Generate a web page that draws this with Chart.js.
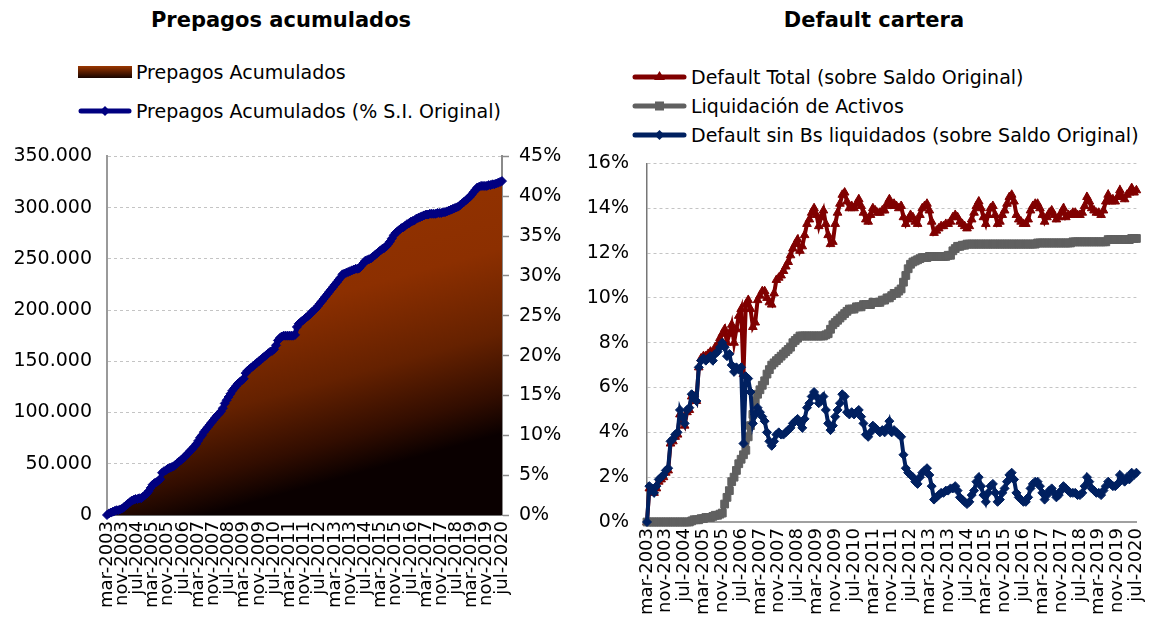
<!DOCTYPE html>
<html lang="es">
<head>
<meta charset="utf-8">
<title>Prepagos acumulados y Default cartera</title>
<script src="https://cdn.jsdelivr.net/npm/chart.js@4.4.1/dist/chart.umd.min.js"></script>
<style>
  html, body { margin: 0; padding: 0; background: #fff; }
  body { width: 1164px; height: 626px; position: relative; overflow: hidden;
         font-family: 'DejaVu Sans', Verdana, sans-serif; color: #000; }
  .title { position: absolute; top: 8px; font-size: 21px; font-weight: bold; text-align: center; }
  .legend-row { position: absolute; height: 24px; display: flex; align-items: center;
                font-size: 19px; white-space: nowrap; }
  .legend-row svg { margin-right: 4px; }
  canvas { position: absolute; }
</style>
</head>
<body>
<div class="title" style="left:0;width:562px">Prepagos acumulados</div>
<div class="title" style="left:580px;width:588px">Default cartera</div>

<!-- legend, left chart -->
<div class="legend-row" style="left:78px;top:60px">
  <svg width="54" height="14"><defs><linearGradient id="gArea" x1="0" y1="0" x2="0" y2="1">
    <stop offset="0" stop-color="#9a3600"/><stop offset="1" stop-color="#180400"/></linearGradient></defs>
    <rect x="0" y="1" width="54" height="12" fill="url(#gArea)"/></svg>Prepagos Acumulados
</div>
<div class="legend-row" style="left:78px;top:99px">
  <svg width="54" height="14"><line x1="3" y1="7" x2="51" y2="7" stroke="#000080" stroke-width="5" stroke-linecap="round"/>
    <polygon points="27,2 32,7 27,12 22,7" fill="#000080"/></svg>Prepagos Acumulados (% S.I. Original)
</div>

<!-- legend, right chart -->
<div class="legend-row" style="left:632px;top:65px">
  <svg width="55" height="14"><line x1="3" y1="7" x2="52" y2="7" stroke="#800000" stroke-width="5" stroke-linecap="round"/>
    <polygon points="27.5,1 33,10 22,10" fill="#800000"/></svg>Default Total (sobre Saldo Original)
</div>
<div class="legend-row" style="left:632px;top:94px">
  <svg width="55" height="14"><line x1="3" y1="7" x2="52" y2="7" stroke="#606060" stroke-width="5" stroke-linecap="round"/>
    <rect x="23" y="2.5" width="9" height="9" fill="#606060"/></svg>Liquidación de Activos
</div>
<div class="legend-row" style="left:632px;top:123px">
  <svg width="55" height="14"><line x1="3" y1="7" x2="52" y2="7" stroke="#002060" stroke-width="5" stroke-linecap="round"/>
    <polygon points="27.5,2 32.5,7 27.5,12 22.5,7" fill="#002060"/></svg>Default sin Bs liquidados (sobre Saldo Original)
</div>

<canvas id="prepagosChart" width="580" height="496" style="left:0;top:130px"></canvas>
<canvas id="defaultChart" width="584" height="492" style="left:580px;top:134px"></canvas>

<script>
// monthly series, mar-2003 .. jul-2020 (rows = calendar years)
const monthNames = ['ene', 'feb', 'mar', 'abr', 'may', 'jun', 'jul', 'ago', 'sep', 'oct', 'nov', 'dic'];

const tickLabels = ['mar-2003', 'nov-2003', 'jul-2004', 'mar-2005', 'nov-2005', 'jul-2006', 'mar-2007',
  'nov-2007', 'jul-2008', 'mar-2009', 'nov-2009', 'jul-2010', 'mar-2011', 'nov-2011', 'jul-2012',
  'mar-2013', 'nov-2013', 'jul-2014', 'mar-2015', 'nov-2015', 'jul-2016', 'mar-2017', 'nov-2017',
  'jul-2018', 'mar-2019', 'nov-2019', 'jul-2020'];

const prepagosMonto = [
  0, 1500, 2300, 3100, 3900, 4600, 4600, 5400, 6200, 7700,
  9200, 10800, 12300, 13900, 14600, 15400, 15400, 16200, 16200, 17700, 19300, 20800,
  23100, 26200, 29300, 30800, 31600, 33100, 34700, 40800, 42400, 43100, 44700, 45400,
  46200, 47000, 48500, 50100, 51600, 53100, 54700, 56200, 58500, 60100, 62400, 63900,
  66200, 68500, 71600, 74700, 77000, 80100, 82400, 84700, 87000, 89300, 91600, 93900,
  96300, 97800, 100100, 103200, 107800, 110900, 114000, 117000, 120100, 122400, 124700, 127100,
  128600, 130100, 131700, 137100, 139400, 140900, 142500, 144000, 145500, 147100, 148600, 150200,
  151700, 153200, 154800, 156300, 157900, 158600, 160200, 164000, 168600, 170900, 172500, 173300,
  173300, 173300, 173300, 173300, 173300, 174000, 181700, 184800, 186300, 187900, 189400, 191000,
  192500, 194000, 196400, 197900, 199400, 201700, 204100, 206400, 208700, 211000, 213300, 215600,
  217900, 220200, 222500, 224800, 227200, 229500, 232500, 233300, 234100, 234900, 235600, 236400,
  237200, 237900, 237900, 238700, 241000, 243300, 245600, 246400, 247200, 247900, 249500, 251000,
  252600, 254100, 255600, 257200, 258000, 259500, 261800, 264100, 267200, 270300, 272600, 274100,
  275700, 277200, 278000, 279500, 281100, 281800, 283400, 284100, 284900, 286400, 287200, 288000,
  288800, 289500, 290300, 290300, 291100, 291100, 291100, 291100, 291800, 291800, 291800, 292600,
  292600, 293400, 294100, 294900, 295700, 296500, 297200, 298000, 299500, 301100, 302600, 304200,
  305700, 307200, 309500, 311900, 314200, 316500, 317200, 318000, 318000, 318000, 318000, 318800,
  318800, 319600, 319600, 320300, 321100, 321900, 322600
];

const prepagosPct = [
  0.0, 0.2, 0.3, 0.4, 0.5, 0.6, 0.6, 0.7, 0.8, 1.0,
  1.2, 1.4, 1.6, 1.8, 1.9, 2.0, 2.0, 2.1, 2.1, 2.3, 2.5, 2.7,
  3.0, 3.4, 3.8, 4.0, 4.1, 4.3, 4.5, 5.3, 5.5, 5.6, 5.8, 5.9,
  6.0, 6.1, 6.3, 6.5, 6.7, 6.9, 7.1, 7.3, 7.6, 7.8, 8.1, 8.3,
  8.6, 8.9, 9.3, 9.7, 10.0, 10.4, 10.7, 11.0, 11.3, 11.6, 11.9, 12.2,
  12.5, 12.7, 13.0, 13.4, 14.0, 14.4, 14.8, 15.2, 15.6, 15.9, 16.2, 16.5,
  16.7, 16.9, 17.1, 17.8, 18.1, 18.3, 18.5, 18.7, 18.9, 19.1, 19.3, 19.5,
  19.7, 19.9, 20.1, 20.3, 20.5, 20.6, 20.8, 21.3, 21.9, 22.2, 22.4, 22.5,
  22.5, 22.5, 22.5, 22.5, 22.5, 22.6, 23.6, 24.0, 24.2, 24.4, 24.6, 24.8,
  25.0, 25.2, 25.5, 25.7, 25.9, 26.2, 26.5, 26.8, 27.1, 27.4, 27.7, 28.0,
  28.3, 28.6, 28.9, 29.2, 29.5, 29.8, 30.2, 30.3, 30.4, 30.5, 30.6, 30.7,
  30.8, 30.9, 30.9, 31.0, 31.3, 31.6, 31.9, 32.0, 32.1, 32.2, 32.4, 32.6,
  32.8, 33.0, 33.2, 33.4, 33.5, 33.7, 34.0, 34.3, 34.7, 35.1, 35.4, 35.6,
  35.8, 36.0, 36.1, 36.3, 36.5, 36.6, 36.8, 36.9, 37.0, 37.2, 37.3, 37.4,
  37.5, 37.6, 37.7, 37.7, 37.8, 37.8, 37.8, 37.8, 37.9, 37.9, 37.9, 38.0,
  38.0, 38.1, 38.2, 38.3, 38.4, 38.5, 38.6, 38.7, 38.9, 39.1, 39.3, 39.5,
  39.7, 39.9, 40.2, 40.5, 40.8, 41.1, 41.2, 41.3, 41.3, 41.3, 41.3, 41.4,
  41.4, 41.5, 41.5, 41.6, 41.7, 41.8, 41.9
];

const defaultTotal = [
  0, 1.5, 1.4, 1.3, 1.5, 1.8, 1.9, 2.0, 2.2, 2.3,
  3.5, 3.6, 3.8, 3.9, 4.8, 4.5, 4.3, 4.9, 5.0, 5.6, 5.6, 5.4,
  6.9, 7.3, 7.4, 7.4, 7.5, 7.6, 7.5, 7.8, 7.9, 8.2, 8.4, 8.6,
  8.0, 8.4, 8.8, 8.0, 8.6, 9.2, 9.5, 6.6, 9.7, 9.9, 9.5, 8.7,
  8.9, 9.9, 10.1, 10.3, 10.3, 10.0, 9.8, 9.7, 10.2, 10.8, 10.9, 11.0,
  11.2, 11.4, 11.6, 11.9, 12.2, 12.4, 12.6, 12.1, 12.3, 12.8, 13.3, 13.5,
  13.8, 14.0, 13.7, 13.2, 13.6, 13.9, 13.3, 12.8, 12.4, 12.5, 13.3, 13.8,
  14.2, 14.6, 14.7, 14.3, 14.0, 14.1, 14.0, 14.2, 14.4, 14.1, 13.8, 13.5,
  13.4, 13.7, 14.0, 13.9, 13.8, 13.8, 13.9, 13.9, 14.2, 14.4, 14.1, 14.2,
  14.1, 14.0, 14.1, 13.6, 13.3, 13.5, 13.7, 13.6, 13.4, 13.3, 13.7, 14.0,
  14.1, 14.2, 13.9, 13.4, 12.9, 13.0, 13.1, 13.2, 13.2, 13.3, 13.3, 13.4,
  13.6, 13.7, 13.6, 13.4, 13.3, 13.2, 13.1, 13.2, 13.5, 13.8, 14.1, 14.3,
  14.0, 13.6, 13.3, 13.7, 14.0, 14.1, 13.7, 13.3, 13.4, 13.7, 13.9, 14.2,
  14.5, 14.6, 14.3, 13.7, 13.5, 13.4, 13.3, 13.3, 13.5, 13.9, 14.1, 14.2,
  14.2, 14.0, 13.7, 13.4, 13.6, 13.8, 13.9, 13.7, 13.5, 13.6, 13.8, 14.0,
  13.6, 13.7, 13.7, 13.8, 13.8, 13.7, 13.7, 13.8, 14.1, 14.5, 14.3, 14.0,
  13.9, 13.8, 13.8, 13.7, 13.9, 14.3, 14.6, 14.3, 14.4, 14.3, 14.5, 14.8,
  14.5, 14.4, 14.6, 14.7, 14.9, 14.7, 14.8
];

const liquidacion = [
  0, 0, 0, 0, 0, 0, 0, 0, 0, 0,
  0, 0, 0, 0, 0, 0, 0, 0, 0, 0.05, 0.1, 0.1,
  0.1, 0.15, 0.15, 0.2, 0.2, 0.2, 0.25, 0.3, 0.3, 0.35, 0.4, 0.8,
  1.1, 1.4, 1.8, 2.0, 2.3, 2.6, 2.8, 3.0, 3.2, 3.8, 4.3, 4.8,
  5.4, 5.7, 5.9, 6.1, 6.3, 6.6, 6.8, 7.0, 7.1, 7.2, 7.3, 7.4,
  7.5, 7.6, 7.7, 7.8, 8.0, 8.1, 8.2, 8.3, 8.3, 8.3, 8.3, 8.3,
  8.3, 8.3, 8.3, 8.3, 8.3, 8.3, 8.35, 8.4, 8.6, 8.8, 8.9, 9.0,
  9.1, 9.2, 9.3, 9.4, 9.5, 9.5, 9.5, 9.6, 9.6, 9.6, 9.7, 9.7,
  9.7, 9.7, 9.8, 9.8, 9.8, 9.8, 9.9, 9.9, 10.0, 10.0, 10.1, 10.2,
  10.2, 10.3, 10.4, 10.7, 11.0, 11.3, 11.5, 11.6, 11.65, 11.7, 11.75, 11.8,
  11.8, 11.8, 11.85, 11.85, 11.85, 11.85, 11.85, 11.85, 11.85, 11.85, 11.9, 11.9,
  12.1, 12.2, 12.3, 12.3, 12.35, 12.35, 12.4, 12.4, 12.4, 12.4, 12.4, 12.4,
  12.4, 12.4, 12.4, 12.4, 12.4, 12.4, 12.4, 12.4, 12.4, 12.4, 12.4, 12.4,
  12.4, 12.4, 12.4, 12.4, 12.4, 12.4, 12.4, 12.4, 12.4, 12.4, 12.4, 12.4,
  12.45, 12.45, 12.45, 12.45, 12.45, 12.45, 12.45, 12.45, 12.45, 12.45, 12.45, 12.45,
  12.45, 12.45, 12.45, 12.5, 12.5, 12.5, 12.5, 12.5, 12.5, 12.5, 12.5, 12.5,
  12.5, 12.5, 12.5, 12.5, 12.5, 12.5, 12.6, 12.6, 12.6, 12.6, 12.6, 12.6,
  12.6, 12.6, 12.6, 12.6, 12.65, 12.65, 12.65
];

const defaultSinBs = [
  0, 1.6, 1.5, 1.3, 1.6, 1.9, 2.0, 2.1, 2.3, 2.4,
  3.6, 3.7, 3.9, 4.0, 5.0, 4.7, 4.4, 5.0, 5.1, 5.7, 5.6, 5.4,
  6.9, 7.2, 7.3, 7.2, 7.3, 7.4, 7.2, 7.5, 7.6, 7.8, 8.0, 7.8,
  7.4, 7.5, 7.0, 6.7, 6.9, 6.8, 6.9, 3.5, 6.5, 6.4, 5.8, 4.4,
  4.8, 5.1, 4.9, 4.7, 4.5, 4.0, 3.6, 3.4, 3.6, 3.9, 4.0, 3.9,
  3.9, 4.0, 4.1, 4.2, 4.4, 4.5, 4.6, 4.4, 4.2, 4.6, 5.1, 5.3,
  5.6, 5.8, 5.6, 5.3, 5.4, 5.6, 5.0, 4.4, 4.1, 4.3, 4.7, 5.0,
  5.3, 5.7, 5.6, 4.9, 4.8, 4.9, 4.8, 4.9, 5.0, 4.7, 4.4, 3.9,
  3.8, 4.0, 4.3, 4.2, 4.1, 4.0, 4.1, 4.0, 4.2, 4.5, 4.0, 4.1,
  4.0, 3.9, 3.8, 3.0, 2.4, 2.2, 2.1, 2.0, 1.8, 1.7, 2.0, 2.2,
  2.3, 2.4, 2.1, 1.6, 1.0, 1.1, 1.2, 1.3, 1.3, 1.4, 1.4, 1.5,
  1.5, 1.6, 1.4, 1.1, 1.0, 0.9, 0.8, 0.9, 1.2, 1.4, 1.8, 2.0,
  1.6, 1.2, 0.9, 1.3, 1.6, 1.7, 1.3, 0.9, 1.0, 1.3, 1.5, 1.8,
  2.1, 2.2, 1.9, 1.3, 1.1, 1.0, 0.9, 0.9, 1.1, 1.5, 1.7, 1.8,
  1.8, 1.6, 1.3, 1.0, 1.2, 1.4, 1.5, 1.3, 1.1, 1.2, 1.4, 1.6,
  1.5, 1.4, 1.3, 1.3, 1.3, 1.2, 1.2, 1.3, 1.6, 2.0, 1.8, 1.5,
  1.4, 1.3, 1.3, 1.2, 1.4, 1.6, 1.8, 1.7, 1.6, 1.6, 1.7, 2.1,
  1.9, 1.8, 2.0, 1.9, 2.2, 2.1, 2.2
];

// month categories, starting at mar-2003
const categories = prepagosPct.map((_, k) =>
  monthNames[(k + 2) % 12] + '-' + (2003 + Math.floor((k + 2) / 12)));

Chart.defaults.font.family = "'DejaVu Sans', Verdana, sans-serif";
Chart.defaults.font.size = 18;
Chart.defaults.color = '#000';
Chart.defaults.animation = false;

const gridColor = '#c4c4c4';

function miles(v) {
  return String(v).replace(/\B(?=(\d{3})+(?!\d))/g, '.');
}

function monthTicks(height, borderColor) {
  return {
    type: 'category',
    offset: false,
    grid: { display: false, drawTicks: false },
    border: { color: borderColor, width: 2 },
    ticks: {
      autoSkip: false,
      maxRotation: 90,
      minRotation: 90,
      padding: 6,
      callback(value) {
        const lab = this.getLabelForValue(value);
        return tickLabels.includes(lab) ? lab : null;
      }
    },
    afterFit: s => { s.height = height; }
  };
}

// area gradient: brown on top, almost black at the bottom
function areaFill(context) {
  const { ctx, chartArea } = context.chart;
  if (!chartArea) return '#8c2f00';
  const g = ctx.createLinearGradient(chartArea.left, chartArea.top,
    chartArea.left + chartArea.width * 0.25, chartArea.bottom);
  g.addColorStop(0, '#9a3600');
  g.addColorStop(0.52, '#8c2f00');
  g.addColorStop(0.74, '#652100');
  g.addColorStop(0.9, '#320d00');
  g.addColorStop(1, '#0a0000');
  return g;
}

// 1. Prepagos acumulados
new Chart(document.getElementById('prepagosChart'), {
  type: 'line',
  data: {
    labels: categories,
    datasets: [{
      label: 'Prepagos Acumulados (% S.I. Original)',
      data: prepagosPct,
      yAxisID: 'y1',
      order: 0,
      borderColor: '#000080',
      borderWidth: 5,
      pointStyle: 'rectRot',
      pointRadius: 4.5,
      pointBackgroundColor: '#000080',
      pointBorderColor: '#000080',
      pointBorderWidth: 1,
      clip: false
    }, {
      label: 'Prepagos Acumulados',
      data: prepagosMonto,
      yAxisID: 'y',
      order: 1,
      fill: 'origin',
      backgroundColor: areaFill,
      borderWidth: 0,
      pointRadius: 0
    }]
  },
  options: {
    responsive: false,
    layout: { padding: { top: 4, left: 0, right: 0, bottom: 0 } },
    plugins: { legend: { display: false }, tooltip: { enabled: false } },
    scales: {
      x: monthTicks(111, '#6e6e6e'),
      y: {
        position: 'left',
        min: 0,
        max: 350000,
        ticks: { stepSize: 50000, padding: 15, font: { size: 19 }, callback: v => miles(v) },
        grid: { color: gridColor, drawTicks: false },
        border: { color: '#9a9a9a', width: 2, dash: [3, 3] },
        afterFit: s => { s.width = 107; }
      },
      y1: {
        position: 'right',
        min: 0,
        max: 45,
        ticks: { stepSize: 5, padding: 10, font: { size: 19 }, callback: v => v + '%' },
        grid: { drawOnChartArea: false, drawTicks: true, tickLength: 7, tickColor: '#8a8a8a', tickWidth: 1.5 },
        border: { color: '#8a8a8a', width: 2 },
        afterFit: s => { s.width = 78; }
      }
    }
  }
});

// 2. Default cartera
new Chart(document.getElementById('defaultChart'), {
  type: 'line',
  data: {
    labels: categories,
    datasets: [{
      label: 'Default sin Bs liquidados (sobre Saldo Original)',
      data: defaultSinBs,
      order: 0,
      borderColor: '#002060',
      borderWidth: 4,
      pointStyle: 'rectRot',
      pointRadius: 4.5,
      pointBackgroundColor: '#002060',
      pointBorderColor: '#002060',
      pointBorderWidth: 1,
      clip: false
    }, {
      label: 'Liquidación de Activos',
      data: liquidacion,
      order: 1,
      borderColor: '#606060',
      borderWidth: 5,
      pointStyle: 'rect',
      pointRadius: 5.5,
      pointBackgroundColor: '#606060',
      pointBorderColor: '#606060',
      pointBorderWidth: 1,
      clip: false
    }, {
      label: 'Default Total (sobre Saldo Original)',
      data: defaultTotal,
      order: 2,
      borderColor: '#800000',
      borderWidth: 4,
      pointStyle: 'triangle',
      pointRadius: 5,
      pointBackgroundColor: '#800000',
      pointBorderColor: '#800000',
      pointBorderWidth: 1,
      clip: false
    }]
  },
  options: {
    responsive: false,
    layout: { padding: { top: 5, left: 0, right: 7, bottom: 0 } },
    plugins: { legend: { display: false }, tooltip: { enabled: false } },
    scales: {
      x: monthTicks(104, '#a0a0a0'),
      y: {
        min: 0,
        max: 16,
        ticks: { stepSize: 2, padding: 18, font: { size: 19 }, callback: v => v + '%' },
        grid: { color: gridColor, drawTicks: false },
        border: { color: '#777', width: 1.5, dash: [3, 3] },
        afterFit: s => { s.width = 67; }
      }
    }
  }
});
</script>
</body>
</html>
